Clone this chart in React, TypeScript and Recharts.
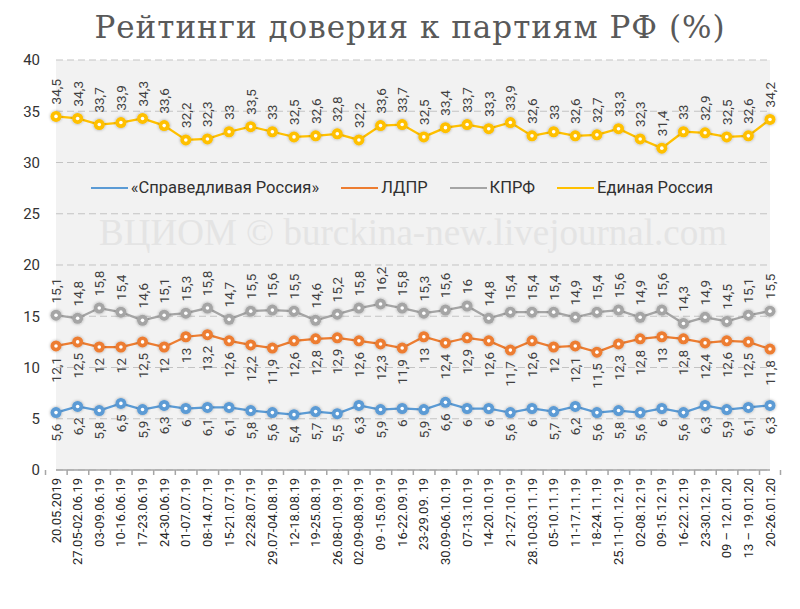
import { LineChart, Line, XAxis, YAxis, CartesianGrid, LabelList } from 'recharts';

const periods = [
  '20.05.2019', '27.05-02.06.19', '03-09.06.19', '10-16.06.19', '17-23.06.19', '24-30.06.19',
  '01-07.07.19', '08-14.07.19', '15-21.07.19', '22-28.07.19', '29.07-04.08.19', '12-18.08.19',
  '19-25.08.19', '26.08-01.09.19', '02.09-08.09.19', '09 -15.09.19', '16-22.09.19', '23-29.09. 19',
  '30.09-06.10.19', '07-13.10.19', '14-20.10.19', '21-27.10.19', '28.10-03.11.19', '05-10.11.19',
  '11-17.11.19', '18-24.11.19', '25.11-01.12.19', '02-08.12.19', '09-15.12.19', '16-22.12.19',
  '23-30.12.19', '09 – 12.01.20', '13 – 19.01.20', '20-26.01.20',
];

const sr = [5.6, 6.2, 5.8, 6.5, 5.9, 6.3, 6, 6.1, 6.1, 5.8, 5.6, 5.4, 5.7, 5.5, 6.3, 5.9, 6, 5.9, 6.6, 6, 6, 5.6, 6, 5.7, 6.2, 5.6, 5.8, 5.6, 6, 5.6, 6.3, 5.9, 6.1, 6.3];
const ldpr = [12.1, 12.5, 12, 12, 12.5, 12, 13, 13.2, 12.6, 12.2, 11.9, 12.6, 12.8, 12.9, 12.6, 12.3, 11.9, 13, 12.4, 12.9, 12.6, 11.7, 12.6, 12, 12.1, 11.5, 12.3, 12.8, 13, 12.8, 12.4, 12.6, 12.5, 11.8];
const kprf = [15.1, 14.8, 15.8, 15.4, 14.6, 15.1, 15.3, 15.8, 14.7, 15.5, 15.6, 15.5, 14.6, 15.2, 15.8, 16.2, 15.8, 15.3, 15.6, 16, 14.8, 15.4, 15.4, 15.4, 14.9, 15.4, 15.6, 14.9, 15.6, 14.3, 14.9, 14.5, 15.1, 15.5];
const er = [34.5, 34.3, 33.7, 33.9, 34.3, 33.6, 32.2, 32.3, 33, 33.5, 33, 32.5, 32.6, 32.8, 32.2, 33.6, 33.7, 32.5, 33.4, 33.7, 33.3, 33.9, 32.6, 33, 32.6, 32.7, 33.3, 32.3, 31.4, 33, 32.9, 32.5, 32.6, 34.2];

const yTicks = [0, 5, 10, 15, 20, 25, 30, 35, 40];

const series = [
  { key: 'sr', name: '«Справедливая Россия»', color: '#5B9BD5', side: 'below' },
  { key: 'ldpr', name: 'ЛДПР', color: '#ED7D31', side: 'below' },
  { key: 'kprf', name: 'КПРФ', color: '#A5A5A5', side: 'above' },
  { key: 'er', name: 'Единая Россия', color: '#FFC000', side: 'above' },
];

const data = periods.map((period, i) => ({ period, sr: sr[i], ldpr: ldpr[i], kprf: kprf[i], er: er[i] }));

const font = 'Roboto, "Noto Sans", sans-serif';
const fmt = (v: number) => String(v).replace('.', ',');

function Dot(props: any) {
  const { cx, cy, stroke } = props;
  if (cx == null || cy == null) return null;
  return (
    <g filter="url(#glow)">
      <circle cx={cx} cy={cy} r={5.5} fill={stroke} />
      <circle cx={cx} cy={cy} r={1.8} fill="#fff" />
    </g>
  );
}

const makeLabel = (side: string) => (props: any) => {
  const { x, y, value } = props;
  const above = side === 'above';
  const ty = above ? y - 12 : y + 11;
  return (
    <text
      x={x}
      y={ty}
      transform={`rotate(-90 ${x} ${ty})`}
      textAnchor={above ? 'start' : 'end'}
      dominantBaseline="central"
      fontSize={13.5}
      fontFamily={font}
      fill="#404040"
    >
      {fmt(value)}
    </text>
  );
};

// category labels sit between Excel-style boundary ticks
function CategoryTick(props: any) {
  const { x, y, payload, index, visibleTicksCount, width } = props;
  const half = width / visibleTicksCount / 2;
  const last = index === visibleTicksCount - 1;
  return (
    <g>
      <line x1={x - half} x2={x - half} y1={y} y2={y + 5} stroke="#a6a6a6" strokeWidth={1.5} />
      {last && <line x1={x + half} x2={x + half} y1={y} y2={y + 5} stroke="#a6a6a6" strokeWidth={1.5} />}
      <text
        x={x}
        y={y + 8}
        transform={`rotate(-90 ${x} ${y + 8})`}
        textAnchor="end"
        dominantBaseline="central"
        fontSize={13}
        fontFamily={font}
        fill="#262626"
      >
        {payload.value}
      </text>
    </g>
  );
}

export default function App() {
  return (
    <div style={{ position: 'absolute', left: 0, top: 0, width: 800, height: 609, background: '#fff' }}>
      <svg width={0} height={0} style={{ position: 'absolute' }}>
        <defs>
          <filter id="glow" x="-1" y="-1" width="3" height="3">
            <feDropShadow dx="0" dy="0" stdDeviation="1.6" floodColor="#000" floodOpacity="0.35" />
          </filter>
        </defs>
      </svg>
      <div
        style={{
          position: 'absolute', top: 9, left: 10, width: 800, textAlign: 'center',
          fontFamily: '"DejaVu Serif", serif', fontSize: 31, color: '#595959', letterSpacing: 1,
        }}
      >
        Рейтинги доверия к партиям РФ (%)
      </div>
      <LineChart width={800} height={609} data={data} margin={{ top: 60, right: 30, left: 0, bottom: 0 }}>
        <CartesianGrid vertical={false} strokeDasharray="7 4" stroke="#c3c3c3" fill="#f2f2f2" />
        <XAxis
          dataKey="period"
          interval={0}
          height={139}
          tickLine={false}
          tickSize={0}
          tickMargin={0}
          axisLine={{ stroke: '#a6a6a6', strokeWidth: 1.5 }}
          tick={<CategoryTick />}
        />
        <YAxis
          domain={[0, 40]}
          ticks={yTicks}
          width={56}
          axisLine={false}
          tickLine={false}
          tickSize={0}
          tickMargin={16}
          tick={{ fontSize: 15, fontFamily: font, fill: '#333' }}
        />
        {series.map((s) => (
          <Line
            key={s.key}
            dataKey={s.key}
            name={s.name}
            stroke={s.color}
            strokeWidth={2.25}
            dot={<Dot />}
            activeDot={false}
            isAnimationActive={false}
          >
            <LabelList dataKey={s.key} content={makeLabel(s.side)} />
          </Line>
        ))}
      </LineChart>
      <div
        style={{
          position: 'absolute', top: 213, left: 0, width: 826, textAlign: 'center', lineHeight: '40px',
          fontFamily: '"Liberation Serif", serif', fontSize: 37, color: '#e4e4e4', pointerEvents: 'none',
        }}
      >
        ВЦИОМ © burckina-new.livejournal.com
      </div>
      <div
        style={{
          position: 'absolute', top: 177, left: 2, width: 800, display: 'flex', justifyContent: 'center',
          gap: 22, fontFamily: font, fontSize: 16.5, lineHeight: '22px', color: '#303030',
        }}
      >
        {series.map((s) => (
          <div key={s.key} style={{ display: 'flex', alignItems: 'center' }}>
            <span style={{ display: 'inline-block', width: 37, height: 2.5, background: s.color, marginRight: 3 }} />
            <span>{s.name}</span>
          </div>
        ))}
      </div>
    </div>
  );
}
